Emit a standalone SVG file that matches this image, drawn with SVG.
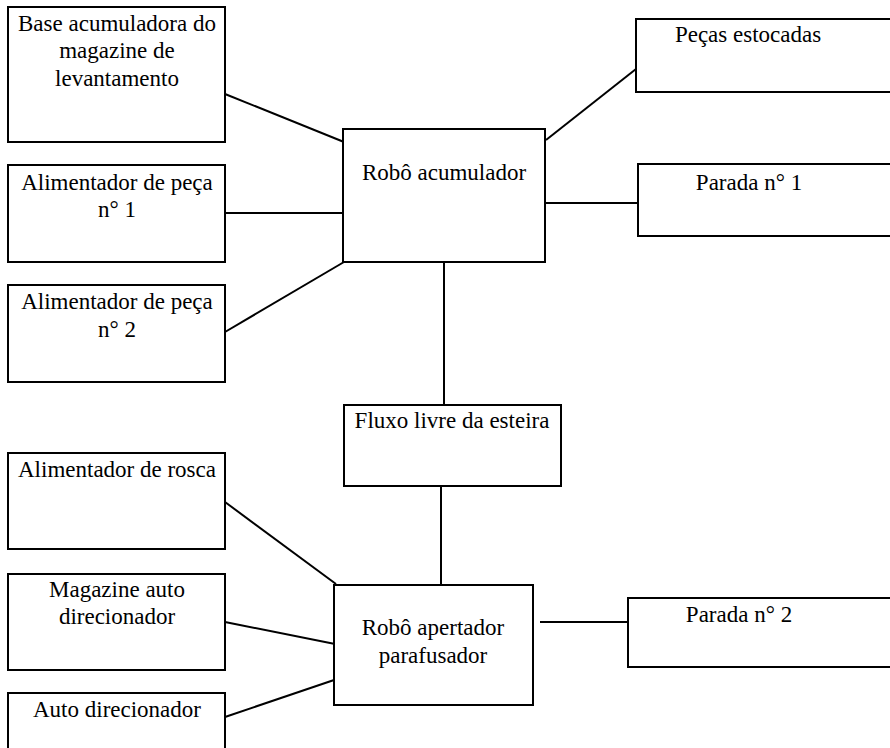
<svg xmlns="http://www.w3.org/2000/svg" width="890" height="748" viewBox="0 0 890 748">
<style>
rect{fill:#fff;stroke:#000;stroke-width:2}
text{font-size:23px;fill:#000;text-anchor:middle}
#connectors line{stroke:#000;stroke-width:2}
</style>
<rect x="0" y="0" width="890" height="748" style="stroke:none"/>
<g id="connectors">
<line x1="225" y1="94" x2="344" y2="142"/>
<line x1="225" y1="213" x2="344" y2="213"/>
<line x1="225" y1="332" x2="344" y2="262"/>
<line x1="546" y1="140" x2="636" y2="69"/>
<line x1="546" y1="203" x2="638" y2="203"/>
<line x1="444" y1="262" x2="444" y2="406"/>
<line x1="441" y1="486" x2="441" y2="588"/>
<line x1="225" y1="502" x2="336" y2="584"/>
<line x1="225" y1="622" x2="345" y2="646"/>
<line x1="225" y1="717" x2="337" y2="679"/>
<line x1="540" y1="622" x2="628" y2="622"/>
</g>
<g font-family="'Liberation Serif', 'DejaVu Serif', serif">
<g id="base">
<rect x="8" y="7" width="217" height="135"/>
<text x="117" y="31">Base acumuladora do</text>
<text x="117" y="58">magazine de</text>
<text x="117" y="86">levantamento</text>
</g>
<g id="alim1">
<rect x="8" y="165" width="217" height="97"/>
<text x="117" y="190">Alimentador de peça</text>
<text x="117" y="217">n° 1</text>
</g>
<g id="alim2">
<rect x="8" y="285" width="217" height="97"/>
<text x="117" y="309">Alimentador de peça</text>
<text x="117" y="337">n° 2</text>
</g>
<g id="rosca">
<rect x="8" y="453" width="217" height="96"/>
<text x="117" y="477">Alimentador de rosca</text>
</g>
<g id="magazine">
<rect x="8" y="574" width="217" height="96"/>
<text x="117" y="597">Magazine auto</text>
<text x="117" y="624">direcionador</text>
</g>
<g id="autodir">
<rect x="8" y="693" width="217" height="80"/>
<text x="117" y="717">Auto direcionador</text>
</g>
<g id="robo-acumulador">
<rect x="343" y="129" width="202" height="133"/>
<text x="444" y="180">Robô acumulador</text>
</g>
<g id="pecas">
<rect x="636" y="19" width="270" height="73"/>
<text x="748" y="42">Peças estocadas</text>
</g>
<g id="parada1">
<rect x="638" y="164" width="270" height="72"/>
<text x="749" y="190">Parada n° 1</text>
</g>
<g id="fluxo">
<rect x="344" y="405" width="217" height="81"/>
<text x="452" y="428">Fluxo livre da esteira</text>
</g>
<g id="robo-apertador">
<rect x="334" y="585" width="199" height="120"/>
<text x="433" y="635">Robô apertador</text>
<text x="433" y="663">parafusador</text>
</g>
<g id="parada2">
<rect x="628" y="598" width="280" height="69"/>
<text x="739" y="622">Parada n° 2</text>
</g>
</g>
</svg>
